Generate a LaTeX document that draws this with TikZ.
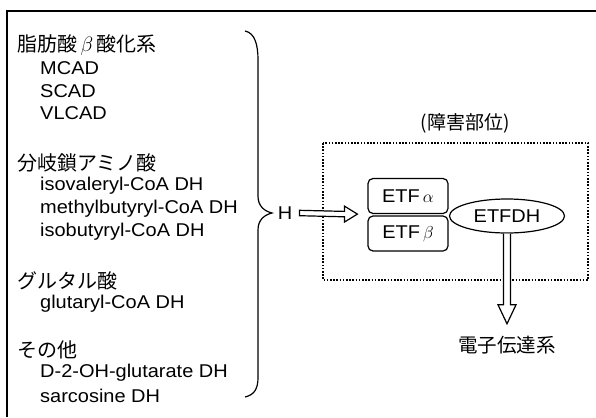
\documentclass[tikz,border=0pt]{standalone}
\usepackage{fontspec}
\setmainfont{Liberation Sans}[FakeStretch=1.08]
\newfontfamily\jp{Noto Sans CJK JP}
\usetikzlibrary{shapes.geometric,calc}
\tikzset{
  lat/.style={anchor=west, inner sep=0pt, font=\fontsize{18.5}{20}\selectfont},
  hdr/.style={anchor=west, inner sep=0pt, font=\fontsize{20}{22}\selectfont\jp},
  etfbox/.style={draw, rounded corners=5pt, minimum width=80pt, minimum height=35pt, inner sep=0pt, line width=1.2pt, font=\fontsize{18.5}{20}\selectfont},
  hollow/.style={draw, line width=1.2pt, fill=white, line join=miter},
}
\begin{document}
\begin{tikzpicture}[x=1pt,y=-1pt]
\useasboundingbox (0,0) rectangle (596,417);
% frame
\draw[line width=1.5pt] (7,417) -- (7,11) -- (596,11);
% left lists
\node[hdr] (h1) at (17,45) {脂肪酸\,$\beta$\,酸化系};
\node[lat] (m1) at (40,68) {MCAD};
\node[lat] (m2) at (40,91) {SCAD};
\node[lat] (m3) at (40,113) {VLCAD};
\node[hdr] (h2) at (17,163) {分岐鎖アミノ酸};
\node[lat] (b1) at (40,186) {isovaleryl-CoA DH};
\node[lat] (b2) at (40,209) {methylbutyryl-CoA DH};
\node[lat] (b3) at (40,232) {isobutyryl-CoA DH};
\node[hdr] (h3) at (17,281) {グルタル酸};
\node[lat] (g1) at (40,304) {glutaryl-CoA DH};
\node[hdr] (h4) at (17,350) {その他};
\node[lat] (o1) at (40,373) {D-2-OH-glutarate DH};
\node[lat] (o2) at (40,396) {sarcosine DH};
% brace
\draw[line width=1.2pt] (245,31) .. controls (255,33) and (258,45) .. (258,60) -- (258,196)
  .. controls (258,206) and (264,211) .. (272,213)
  .. controls (264,215) and (258,220) .. (258,230) -- (258,378)
  .. controls (258,389) and (254,395) .. (245,397);
% H
\node[lat, anchor=center] (H) at (285,213) {H};
% dotted region
\draw[line width=1.8pt, dash pattern=on 1.6pt off 1.6pt] (323,143) rectangle (588,280);
\node[font=\fontsize{19}{21}\selectfont\jp, inner sep=0pt] (lbl) at (465,123) {(障害部位)};
% ETF boxes
\node[etfbox] (ea) at (408,196) {ETF\,$\alpha$};
\node[etfbox] (eb) at (408,233.5) {ETF\,$\beta$};
% ETFDH
\node[draw, ellipse, minimum width=115pt, minimum height=34pt, inner sep=0pt, line width=1.2pt, font=\fontsize{18.5}{20}\selectfont] (dh) at (507,216) {ETFDH};
% electron transport
\node[font=\fontsize{19.5}{21}\selectfont\jp, inner sep=0pt] (et) at (507,345) {電子伝達系};
% hollow horizontal arrow H -> ETF
\coordinate (hs) at ($(H.east)+(7,0)$);
\coordinate (ht) at ($(ea.south west)+(-10,0)$);
\draw[hollow] ($(hs)+(0,-2.7)$) -- ($(ht)+(-13,-2.7)$) -- ($(ht)+(-13,-8)$) -- (ht)
  -- ($(ht)+(-13,8)$) -- ($(ht)+(-13,2.7)$) -- ($(hs)+(0,2.7)$) -- cycle;
% hollow down arrow ETFDH -> 電子伝達系
\coordinate (vs) at (dh.south);
\coordinate (vt) at ($(et.north)+(0,-12)$);
\draw[hollow] ($(vs)+(-3.5,0)$) -- ($(vt)+(-3.5,-19)$) -- ($(vt)+(-9,-19)$) -- (vt)
  -- ($(vt)+(9,-19)$) -- ($(vt)+(3.5,-19)$) -- ($(vs)+(3.5,0)$);
\end{tikzpicture}
\end{document}
